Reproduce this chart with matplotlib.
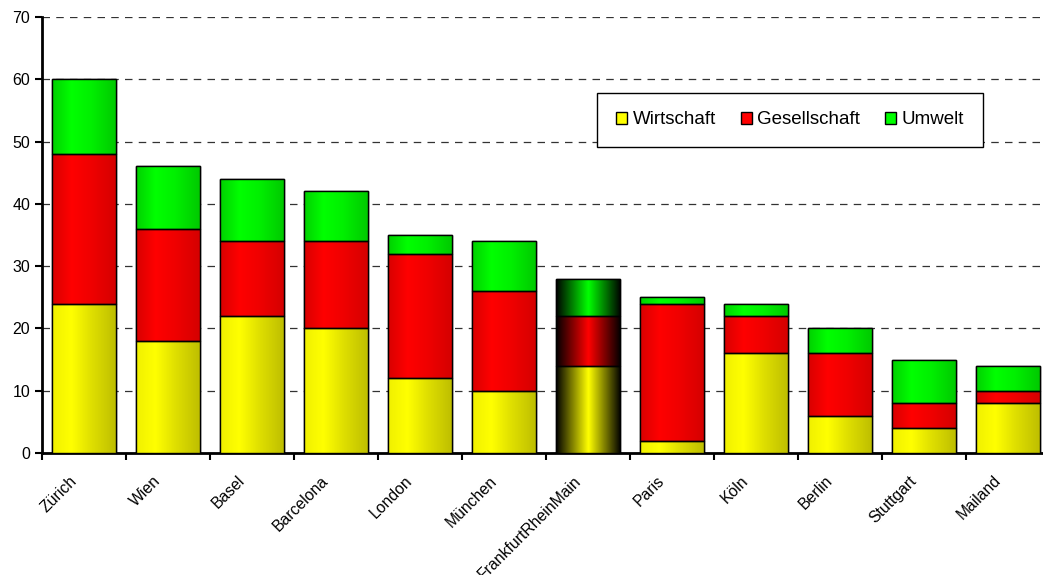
import matplotlib
matplotlib.use("Agg")
import matplotlib.pyplot as plt
import matplotlib.colors as mcolors
import matplotlib.transforms as mtrans
import numpy as np
from matplotlib.patches import Patch

plt.rcParams["font.family"] = ["Liberation Sans", "DejaVu Sans"]

cities = ["Zürich", "Wien", "Basel", "Barcelona", "London", "München",
          "FrankfurtRheinMain", "Paris", "Köln", "Berlin", "Stuttgart", "Mailand"]
wirtschaft = [24, 18, 22, 20, 12, 10, 14, 2, 16, 6, 4, 8]
gesellschaft = [24, 18, 12, 14, 20, 16, 8, 22, 6, 10, 4, 2]
umwelt = [12, 10, 10, 8, 3, 8, 6, 1, 2, 4, 7, 4]
highlight = "FrankfurtRheinMain"

series = [
    ("Wirtschaft", wirtschaft, ["#f0f000", "#ffff00", "#e0e000", "#bdbd00"]),
    ("Gesellschaft", gesellschaft, ["#d80000", "#ff0000", "#f00000", "#d40000"]),
    ("Umwelt", umwelt, ["#00d000", "#00ff00", "#00f000", "#00c800"]),
]
base_colors = {"Wirtschaft": "#ffff00", "Gesellschaft": "#ff0000", "Umwelt": "#00ff00"}

fig = plt.figure(figsize=(10.43, 5.75), dpi=100)
ax = fig.add_axes([42 / 1043, 122 / 575, 1008 / 1043, 436 / 575])

x = np.arange(len(cities))
width = 0.77
bottom = np.zeros(len(cities))
grad = np.linspace(0, 1, 256).reshape(1, -1)

for name, vals, stops in series:
    bars = ax.bar(x, vals, width, bottom=bottom, color=base_colors[name],
                  edgecolor="black", linewidth=1.0, zorder=3)
    normal_cmap = mcolors.LinearSegmentedColormap.from_list(
        name, list(zip([0, 0.3, 0.6, 1], stops)))
    hi_cmap = mcolors.LinearSegmentedColormap.from_list(
        name + "_hi", [(0, "black"), (0.5, base_colors[name]), (1, "black")])
    for city, bar in zip(cities, bars):
        cmap = hi_cmap if city == highlight else normal_cmap
        x0, y0 = bar.get_x(), bar.get_y()
        im = ax.imshow(grad, cmap=cmap, aspect="auto", zorder=3.5,
                       extent=[x0, x0 + bar.get_width(), y0, y0 + bar.get_height()])
        im.set_clip_path(bar)
        # redraw edge on top
        ax.add_patch(plt.Rectangle((x0, y0), bar.get_width(), bar.get_height(),
                                   fill=False, edgecolor="black", linewidth=1.0, zorder=4))
    bottom += np.array(vals)

ax.set_xlim(-0.5, len(cities) - 0.5)
ax.set_ylim(0, 70)
ax.set_yticks(range(0, 71, 10))
ax.yaxis.grid(True, linestyle=(0, (6, 5)), color="#333333", linewidth=0.9, zorder=0)
ax.set_axisbelow(True)

# ticks between categories, labels drawn as rotated texts
ax.set_xticks(np.arange(len(cities) + 1) - 0.5)
ax.set_xticklabels([])
lbl_trans = ax.get_xaxis_transform() + mtrans.ScaledTranslation(-15 / 100, -20 / 100,
                                                                 fig.dpi_scale_trans)
for i, city in enumerate(cities):
    ax.text(i, 0, city, transform=lbl_trans, rotation=45, ha="right", va="top",
            rotation_mode="anchor", fontsize=11.3, clip_on=False)

ax.tick_params(axis="x", which="major", length=5, width=1.5, direction="out")
ax.tick_params(axis="y", length=5, width=1.5, direction="out", labelsize=11.5)

for s in ["top", "right"]:
    ax.spines[s].set_visible(False)
for s in ["left", "bottom"]:
    ax.spines[s].set_linewidth(2)

handles = [Patch(facecolor=base_colors[n], edgecolor="black") for n, _, _ in series]
leg = ax.legend(handles, [n for n, _, _ in series], ncol=3, loc="center",
                bbox_to_anchor=(790 / 1043, 1 - 120 / 575),
                bbox_transform=fig.transFigure, fontsize=13.5, frameon=True,
                framealpha=1, fancybox=False, borderpad=1.0, columnspacing=1.3,
                handlelength=0.6, handleheight=0.6, handletextpad=0.3)
leg.get_frame().set_edgecolor("black")
leg.get_frame().set_linewidth(1.0)
leg.set_zorder(5)

fig.savefig("out.png", dpi=100)
